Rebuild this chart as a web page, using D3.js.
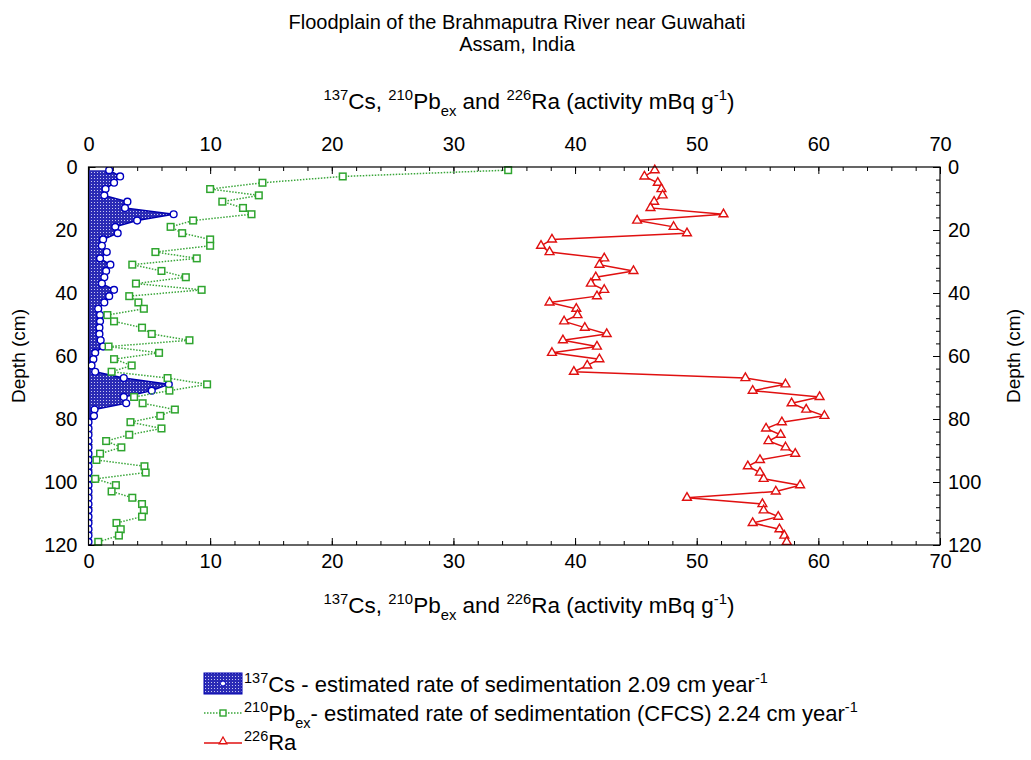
<!DOCTYPE html>
<html><head><meta charset="utf-8">
<script src="https://cdn.jsdelivr.net/npm/d3@7"></script>
<style>
body{margin:0;background:#fff}
text{font-family:"Liberation Sans",Arial,sans-serif;fill:#000;white-space:pre}
</style>
</head><body>
<svg id="c" width="1031" height="760"></svg>
<script>
// ---------- data ----------
const depths = [1,3,5,7,9,11,13,15,17,19,21,23,25,27,29,31,33,35,37,39,41,43,45,47,49,51,53,55,57,59,61,63,65,67,69,71,73,75,77,79,81,83,85,87,89,91,93,95,97,99,101,103,105,107,109,111,113,115,117,119];
const cs137 = [1.7,2.6,2.1,1.4,1.3,3.2,3.0,7.0,4.0,2.2,2.4,1.2,1.1,1.5,0.95,1.8,1.45,1.3,1.1,2.1,1.7,1.3,0.8,0.95,0.95,0.9,0.9,1.0,1.2,0.55,0.4,0.25,0.55,2.9,6.6,5.2,2.9,3.1,0.5,0.45,0,0,0,0,0,0,0,0,0,0,0,0,0,0,0,0,0,0,0,0];
const pb210 = [34.5,20.9,14.3,10.0,14.0,11.0,12.7,13.4,8.6,6.75,7.7,10.0,10.0,5.5,8.9,3.6,6.0,8.0,3.9,9.3,3.35,4.1,4.55,1.55,2.1,4.4,5.2,8.3,1.65,5.8,2.1,3.55,1.9,6.5,9.75,6.65,3.75,4.45,7.1,5.9,3.45,6.0,3.35,1.45,2.7,0.95,0.65,4.6,4.7,0.55,2.25,1.9,3.6,4.4,4.55,4.4,2.3,2.65,2.5,0.8];
const ra226 = [46.55,45.7,46.8,47.1,47.2,46.5,46.2,52.2,45.1,48.1,49.2,38.1,37.2,37.9,42.4,42.0,44.8,41.7,41.3,42.4,41.8,37.9,40.1,40.2,39.1,40.8,42.6,39.0,41.8,38.1,42.0,41.0,39.9,54.0,57.3,54.6,60.1,57.8,59.0,60.5,57.0,55.7,56.9,55.9,57.3,58.1,55.2,54.2,55.2,55.5,58.5,56.5,49.2,55.4,55.5,56.7,54.6,56.8,57.2,57.4];
const xTicks = [0,10,20,30,40,50,60,70];
const yTicks = [0,20,40,60,80,100,120];
const titleLines = ["Floodplain of the Brahmaputra River near Guwahati","Assam, India"];
const axisLabelParts = [["137","sup"],["Cs, ",""],["210","sup"],["Pb",""],["ex","sub"],[" and ",""],["226","sup"],["Ra (activity mBq g",""],["-1","sup"],[")",""]];
const yLabel = "Depth (cm)";
const legendItems = [
  [["137","sup"],["Cs - estimated rate of sedimentation 2.09 cm year",""],["-1","sup"]],
  [["210","sup"],["Pb",""],["ex","sub"],["- estimated rate of sedimentation (CFCS) 2.24 cm year",""],["-1","sup"]],
  [["226","sup"],["Ra",""]]
];

// ---------- layout ----------
const L=88.5, R=940, T=167, B=545;
const x = d3.scaleLinear().domain([0,70]).range([L,R]);
const y = d3.scaleLinear().domain([0,120]).range([T,B]);
const svg = d3.select("#c");
const AFS = 22.5;

const defs = svg.append("defs");
const pat = defs.append("pattern").attr("id","hatch").attr("patternUnits","userSpaceOnUse").attr("width",3).attr("height",3);
pat.append("rect").attr("width",3).attr("height",3).attr("fill","#2b2bb5");
pat.append("rect").attr("x",1).attr("y",1).attr("width",1).attr("height",1).attr("fill","#c8c8f0");
defs.append("clipPath").attr("id","plotclip").append("rect").attr("x",L).attr("y",T).attr("width",R-L).attr("height",B-T);

function rich(sel, parts, fs){
  let shift=0;
  parts.forEach(([t,s])=>{
    const target = s==="sup" ? -0.42*fs : s==="sub" ? 0.3*fs : 0;
    sel.append("tspan").attr("dy",target-shift).attr("font-size", s? fs*0.66 : fs).text(t);
    shift=target;
  });
}

// title
svg.append("text").attr("x",517).attr("y",29).attr("text-anchor","middle").attr("font-size",20).text(titleLines[0]);
svg.append("text").attr("x",517).attr("y",51).attr("text-anchor","middle").attr("font-size",20).text(titleLines[1]);
// axis labels
rich(svg.append("text").attr("x",529).attr("y",109).attr("text-anchor","middle").attr("font-size",AFS), axisLabelParts, AFS);
rich(svg.append("text").attr("x",529).attr("y",613).attr("text-anchor","middle").attr("font-size",AFS), axisLabelParts, AFS);
svg.append("text").attr("transform","translate(25,356) rotate(-90)").attr("text-anchor","middle").attr("font-size",19).text(yLabel);
svg.append("text").attr("transform","translate(1020,356) rotate(-90)").attr("text-anchor","middle").attr("font-size",19).text(yLabel);

// axes
const minorX = d3.range(0,70.001,2), minorY = d3.range(0,120.001,4);
function styleAxis(g){ g.select(".domain").remove(); g.selectAll("text").attr("font-size",20).attr("font-family","Liberation Sans, Arial, sans-serif"); g.selectAll("line").attr("stroke","#000"); }
svg.append("g").attr("transform",`translate(0,${T})`).call(d3.axisTop(x).tickValues(minorX).tickSize(-4).tickFormat("")).call(styleAxis);
svg.append("g").attr("transform",`translate(0,${B})`).call(d3.axisBottom(x).tickValues(minorX).tickSize(-4).tickFormat("")).call(styleAxis);
svg.append("g").attr("transform",`translate(${L},0)`).call(d3.axisLeft(y).tickValues(minorY).tickSize(-4).tickFormat("")).call(styleAxis);
svg.append("g").attr("transform",`translate(${R},0)`).call(d3.axisRight(y).tickValues(minorY).tickSize(-4).tickFormat("")).call(styleAxis);
svg.append("g").attr("transform",`translate(0,${T})`).call(d3.axisTop(x).tickValues(xTicks).tickSize(-7).tickPadding(16)).call(styleAxis);
svg.append("g").attr("transform",`translate(0,${B})`).call(d3.axisBottom(x).tickValues(xTicks).tickSize(-7).tickPadding(9)).call(styleAxis);
svg.append("g").attr("transform",`translate(${L},0)`).call(d3.axisLeft(y).tickValues(yTicks).tickSize(-7).tickPadding(11)).call(styleAxis);
svg.append("g").attr("transform",`translate(${R},0)`).call(d3.axisRight(y).tickValues(yTicks).tickSize(-7).tickPadding(8)).call(styleAxis);

// series
const plot = svg.append("g").attr("clip-path","url(#plotclip)");
const csData = depths.map((d,i)=>({d,v:cs137[i]}));
const pbData = depths.map((d,i)=>({d,v:pb210[i]}));
const raData = depths.map((d,i)=>({d,v:ra226[i]}));

plot.append("path").datum(csData).attr("fill","url(#hatch)")
  .attr("d", d3.area().y(p=>y(p.d)).x0(x(0)).x1(p=>x(p.v)));
plot.append("path").datum(csData).attr("fill","none").attr("stroke","#0000b0").attr("stroke-width",1.5)
  .attr("d", d3.line().x(p=>x(p.v)).y(p=>y(p.d)));
plot.selectAll(".csm").data(csData).enter().append("circle")
  .attr("cx",p=>x(p.v)).attr("cy",p=>y(p.d)).attr("r",3.4)
  .attr("fill","#fff").attr("stroke","#0000c0").attr("stroke-width",1.4);

svg.append("path").datum(pbData).attr("fill","none").attr("stroke","#3aa63a").attr("stroke-width",1.5).attr("stroke-dasharray","1.5,1.5")
  .attr("d", d3.line().x(p=>x(p.v)).y(p=>y(p.d)));
svg.selectAll(".pbm").data(pbData).enter().append("rect")
  .attr("x",p=>x(p.v)-3.3).attr("y",p=>y(p.d)-3.3).attr("width",6.6).attr("height",6.6)
  .attr("fill","#fff").attr("stroke","#2fa52f").attr("stroke-width",1.5);

svg.append("path").datum(raData).attr("fill","none").attr("stroke","#e01010").attr("stroke-width",1.5)
  .attr("d", d3.line().x(p=>x(p.v)).y(p=>y(p.d)));
const tri = d3.symbol().type(d3.symbolTriangle).size(34);
svg.selectAll(".ram").data(raData).enter().append("path")
  .attr("transform",p=>`translate(${x(p.v)},${y(p.d)})`).attr("d",tri)
  .attr("fill","#fff").attr("stroke","#e01010").attr("stroke-width",1.4);

// frame
svg.append("rect").attr("x",L).attr("y",T).attr("width",R-L).attr("height",B-T).attr("fill","none").attr("stroke","#000").attr("stroke-width",1.2);

// legend
const LX=204, LW=38, TX=244;
const baselines=[692,721,750];
svg.append("rect").attr("x",LX).attr("y",673).attr("width",LW).attr("height",21).attr("fill","url(#hatch)").attr("stroke","#0000b0").attr("stroke-width",1);
svg.append("circle").attr("cx",LX+LW/2).attr("cy",683.5).attr("r",2.5).attr("fill","#fff").attr("stroke","#0000c0");
svg.append("line").attr("x1",LX).attr("x2",LX+LW).attr("y1",713).attr("y2",713).attr("stroke","#3aa63a").attr("stroke-width",1.5).attr("stroke-dasharray","1.5,1.5");
svg.append("rect").attr("x",LX+LW/2-3).attr("y",710).attr("width",6).attr("height",6).attr("fill","#fff").attr("stroke","#2fa52f").attr("stroke-width",1.4);
svg.append("line").attr("x1",LX).attr("x2",LX+LW).attr("y1",743).attr("y2",743).attr("stroke","#e01010").attr("stroke-width",1.5);
svg.append("path").attr("transform",`translate(${LX+LW/2},${741.5})`).attr("d",d3.symbol().type(d3.symbolTriangle).size(26)).attr("fill","#fff").attr("stroke","#e01010").attr("stroke-width",1.3);
legendItems.forEach((parts,i)=>{
  rich(svg.append("text").attr("x",TX).attr("y",baselines[i]).attr("font-size",22), parts, 22);
});
</script>
</body></html>
